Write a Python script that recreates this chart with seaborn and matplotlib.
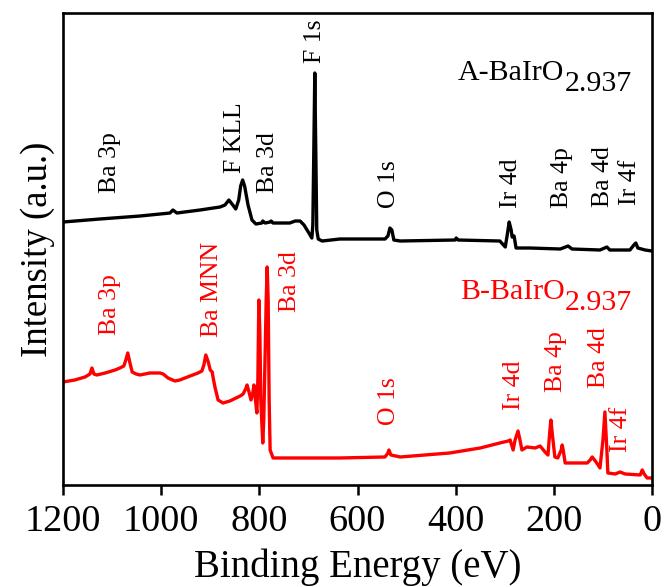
import pandas as pd
import matplotlib
matplotlib.use("Agg")
import matplotlib.pyplot as plt
import seaborn as sns

# ---- survey spectra: binding energy (eV) and intensity (a.u.) ----
energy_a = [
    1200, 1125, 1043, 982, 976, 968, 921, 880, 870, 862,
    854, 848, 842, 838, 834, 830, 823, 815, 807, 795,
    793, 788, 778, 776, 772, 738, 727, 717, 709, 699,
    693, 691, 689, 687, 685, 683, 680, 672, 636, 544,
    538, 534, 530, 526, 513, 401, 399, 395, 310, 299,
    295, 291, 287, 285, 281, 277, 249, 187, 171, 163,
    106, 92, 86, 45, 37, 33, 29, 14, 0,
]
intensity_a = [
    263, 266, 269, 272, 275, 272, 275, 278, 280, 285,
    280, 276, 285, 299, 305, 299, 280, 265, 261, 262,
    264, 262, 263, 264, 262, 262, 264, 264, 260, 252,
    247, 260, 335, 412, 335, 255, 246, 244, 246, 246,
    249, 257, 255, 245, 244, 245, 247, 245, 244, 238,
    250, 263, 255, 248, 249, 237, 237, 236, 239, 236,
    235, 238, 235, 235, 240, 242, 237, 235, 234,
]

energy_b = [
    1200, 1176, 1155, 1145, 1141, 1137, 1131, 1114, 1094, 1084,
    1076, 1072, 1068, 1064, 1059, 1051, 1043, 1023, 1002, 996,
    986, 972, 962, 941, 925, 917, 913, 909, 904, 900,
    896, 894, 890, 884, 874, 860, 839, 833, 827, 825,
    821, 817, 813, 811, 809, 805, 803, 801, 799, 797,
    793, 791, 788, 786, 784, 782, 780, 778, 772, 717,
    636, 544, 538, 536, 532, 513, 412, 350, 310, 293,
    289, 283, 279, 273, 269, 265, 255, 238, 228, 218,
    212, 208, 206, 204, 198, 192, 185, 183, 181, 177,
    157, 132, 126, 122, 114, 106, 100, 96, 92, 90,
    75, 65, 55, 24, 20, 16, 10, 0,
]
intensity_b = [
    103, 105, 108, 111, 117, 111, 110, 112, 115, 117,
    119, 125, 132, 123, 113, 111, 110, 112, 112, 111,
    107, 104, 105, 109, 112, 114, 120, 130, 123, 115,
    113, 107, 97, 85, 82, 84, 89, 91, 97, 100,
    93, 85, 93, 100, 90, 72, 105, 185, 155, 85,
    42, 65, 135, 185, 218, 185, 85, 35, 27, 27,
    27, 28, 32, 35, 30, 28, 32, 37, 42, 44,
    45, 35, 45, 54, 45, 35, 38, 37, 39, 33,
    30, 55, 65, 55, 28, 27, 35, 40, 35, 22,
    22, 22, 25, 28, 23, 17, 45, 73, 35, 12,
    11, 13, 11, 10, 15, 11, 7, 7,
]

# ---- peak assignments: label, energy (eV), label base height ----
peaks_a = ["Ba 3p", "F KLL", "Ba 3d", "F 1s", "O 1s", "Ir 4d", "Ba 4p",
           "Ba 4d", "Ir 4f"]
peaks_a_energy = [1104, 850, 782, 687, 536, 287, 183, 100, 45]
peaks_a_height = [292, 312, 292, 422, 277, 277, 277, 278, 280]

peaks_b = ["Ba 3p", "Ba MNN", "Ba 3d", "O 1s", "Ir 4d", "Ba 4p", "Ba 4d",
           "Ir 4f"]
peaks_b_energy = [1104, 896, 738, 536, 281, 196, 108, 63]
peaks_b_height = [150, 148, 173, 60, 75, 93, 97, 33]

sample_names = ["A-BaIrO", "B-BaIrO"]
sample_subscript = "2.937"
sample_colors = {"A": "black", "B": "red"}

xticks = [1200, 1000, 800, 600, 400, 200, 0]

# ---- tidy table for seaborn ----
df = pd.concat([
    pd.DataFrame({"energy": energy_a, "intensity": intensity_a, "sample": "A"}),
    pd.DataFrame({"energy": energy_b, "intensity": intensity_b, "sample": "B"}),
], ignore_index=True)

sns.set_theme(style="ticks")
plt.rcParams["font.family"] = ["Liberation Serif", "DejaVu Serif"]
plt.rcParams["text.color"] = "black"
plt.rcParams["axes.labelcolor"] = "black"
plt.rcParams["xtick.color"] = "black"
plt.rcParams["xtick.labelcolor"] = "black"

fig = plt.figure(figsize=(6.65, 5.87), dpi=100)
ax = fig.add_axes([0.0947, 0.1738, 0.8858, 0.8040])

sns.lineplot(data=df, x="energy", y="intensity", hue="sample",
             palette=sample_colors, estimator=None, sort=False,
             legend=False, linewidth=2.4, ax=ax)

ax.set_xlim(1200, 0)
ax.set_ylim(0, 472)
ax.set_xticks(xticks)
ax.set_xticklabels([str(t) for t in xticks])
ax.set_yticks([])
ax.tick_params(axis="x", direction="out", length=7, width=1.8,
               labelsize=27.5, pad=7, colors="black", labelcolor="black")
for sp in ax.spines.values():
    sp.set_linewidth(1.9)
    sp.set_color("black")

ax.set_xlabel("Binding Energy (eV)", fontsize=28, labelpad=7, color="black")
ax.set_ylabel("Intensity (a.u.)", fontsize=26.5, labelpad=6, color="black")

# peak labels
for name, e, h in zip(peaks_a, peaks_a_energy, peaks_a_height):
    ax.text(e, h, name, rotation=90, ha="center", va="bottom",
            fontsize=18.5, color="black")
for name, e, h in zip(peaks_b, peaks_b_energy, peaks_b_height):
    ax.text(e, h, name, rotation=90, ha="center", va="bottom",
            fontsize=18.5, color="red")

# sample names with subscripted stoichiometry
for name, e, h, col in [(sample_names[0], 395, 405, "black"),
                        (sample_names[1], 391, 186, "red")]:
    t = ax.text(e, h, name, ha="left", va="baseline", fontsize=21.5, color=col)
    ax.annotate(sample_subscript, xy=(1, 0), xycoords=t,
                xytext=(0, -8), textcoords="offset points",
                ha="left", va="bottom", fontsize=21.5, color=col)

fig.savefig("out.png", dpi=100)
